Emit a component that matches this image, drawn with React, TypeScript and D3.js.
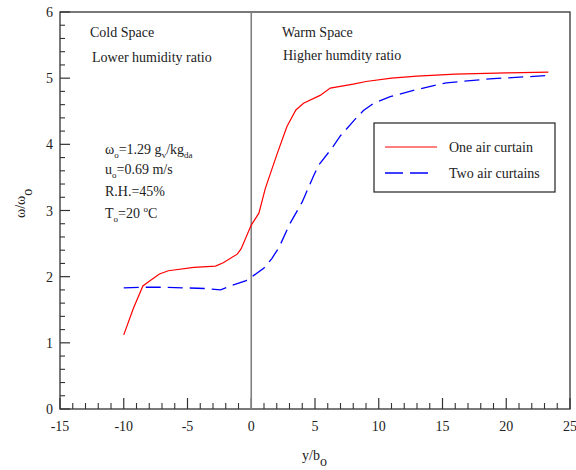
import React from "react";
import * as d3 from "d3";

const oneCurtainX = [-10, -9.25, -8.5, -8, -7.2, -6.5, -4.5, -2.8, -2.2, -1.1, -0.8, 0, 0.6, 1.1, 2, 2.8, 3.5, 4.1, 5.4, 6.2, 8, 9, 11, 13, 16, 20, 23.3];
const oneCurtainY = [1.12, 1.52, 1.86, 1.93, 2.04, 2.09, 2.14, 2.16, 2.21, 2.34, 2.42, 2.78, 2.96, 3.33, 3.84, 4.27, 4.52, 4.62, 4.74, 4.85, 4.91, 4.95, 5.0, 5.03, 5.06, 5.08, 5.09];

const twoCurtainsX = [-10, -8.5, -7, -5, -3.5, -2.4, -1.5, -0.4, 0.2, 1, 1.6, 2.2, 3, 4, 4.9, 5.3, 6.4, 7, 8.1, 8.8, 9.6, 10.9, 12.8, 15.3, 18.7, 23.3];
const twoCurtainsY = [1.83, 1.84, 1.84, 1.83, 1.82, 1.8, 1.87, 1.94, 2.02, 2.13, 2.27, 2.45, 2.79, 3.13, 3.53, 3.69, 3.96, 4.13, 4.37, 4.51, 4.62, 4.72, 4.82, 4.93, 4.99, 5.04];

const xMajorTicks = [-15, -10, -5, 0, 5, 10, 15, 20, 25];
const yMajorTicks = [0, 1, 2, 3, 4, 5, 6];
const legendLabels = ["One air curtain", "Two air curtains"];

const FONT = "'Liberation Serif', 'Times New Roman', serif";

export default function App() {
  const left = 60, right = 570, top = 12, bottom = 409;
  const x = d3.scaleLinear().domain([-15, 25]).range([left, right]);
  const y = d3.scaleLinear().domain([0, 6]).range([bottom, top]);

  const line = d3
    .line<[number, number]>()
    .x((d) => x(d[0]))
    .y((d) => y(d[1]));

  const oneData: [number, number][] = oneCurtainX.map((v, i) => [v, oneCurtainY[i]]);
  const twoData: [number, number][] = twoCurtainsX.map((v, i) => [v, twoCurtainsY[i]]);

  const xMinor = d3.range(-15, 25.001, 1).filter((v) => !xMajorTicks.includes(v));
  const yMinor = d3.range(0, 6.001, 0.2).map((v) => Math.round(v * 10) / 10).filter((v) => !yMajorTicks.includes(v));

  const axisColor = "#333";
  const fs = 14;

  return (
    <svg width={576} height={470} style={{ position: "absolute", left: 0, top: 0, background: "#fff" }} fontFamily={FONT}>
      {/* frame */}
      <rect x={left} y={top} width={right - left} height={bottom - top} fill="none" stroke={axisColor} strokeWidth={1.3} />
      {/* x ticks */}
      {xMajorTicks.map((t) => (
        <g key={"xm" + t}>
          <line x1={x(t)} x2={x(t)} y1={bottom} y2={bottom - 11} stroke={axisColor} strokeWidth={1.2} />
          <text x={x(t)} y={431} fontSize={fs} textAnchor="middle" fill="#222" fontFamily={FONT}>{t}</text>
        </g>
      ))}
      {xMinor.map((t) => (
        <line key={"xn" + t} x1={x(t)} x2={x(t)} y1={bottom} y2={bottom - 6} stroke={axisColor} strokeWidth={1.1} />
      ))}
      {/* y ticks */}
      {yMajorTicks.map((t) => (
        <g key={"ym" + t}>
          <line x1={left} x2={left + 10} y1={y(t)} y2={y(t)} stroke={axisColor} strokeWidth={1.2} />
          <text x={53} y={y(t) + 5} fontSize={fs} textAnchor="end" fill="#222" fontFamily={FONT}>{t}</text>
        </g>
      ))}
      {yMinor.map((t) => (
        <line key={"yn" + t} x1={left} x2={left + 5} y1={y(t)} y2={y(t)} stroke={axisColor} strokeWidth={1.1} />
      ))}
      {/* divider at 0 */}
      <line x1={x(0)} x2={x(0)} y1={bottom} y2={top} stroke="#808080" strokeWidth={1.6} />

      {/* curves */}
      <path d={line(oneData) || ""} fill="none" stroke="#ff0000" strokeWidth={1.2} />
      <path d={line(twoData) || ""} fill="none" stroke="#0000ff" strokeWidth={1.3} strokeDasharray="15 7" />

      {/* region texts */}
      <text x={90} y={37} fontSize={fs} fill="#222">Cold Space</text>
      <text x={92} y={62} fontSize={fs} fill="#222">Lower humidity ratio</text>
      <text x={282} y={37} fontSize={fs} fill="#222">Warm Space</text>
      <text x={283} y={60} fontSize={fs} fill="#222">Higher humdity ratio</text>

      {/* condition annotations */}
      <text x={105} y={154} fontSize={fs} fill="#222">
        ω<tspan fontSize={9} dy={4}>o</tspan>
        <tspan dy={-4}>=1.29 g</tspan>
        <tspan fontSize={9} dy={4}>v</tspan>
        <tspan dy={-4}>/kg</tspan>
        <tspan fontSize={9} dy={4}>da</tspan>
      </text>
      <text x={105} y={174} fontSize={fs} fill="#222">
        u<tspan fontSize={9} dy={4}>o</tspan>
        <tspan dy={-4}>=0.69 m/s</tspan>
      </text>
      <text x={105} y={196} fontSize={fs} fill="#222">R.H.=45%</text>
      <text x={105} y={218} fontSize={fs} fill="#222">
        T<tspan fontSize={9} dy={4}>o</tspan>
        <tspan dy={-4}>=20 </tspan>
        <tspan fontSize={9} dy={-6}>o</tspan>
        <tspan dy={6}>C</tspan>
      </text>

      {/* legend */}
      <rect x={374} y={123} width={181} height={69} fill="#fff" stroke="#222" strokeWidth={1.2} />
      <line x1={385} x2={437} y1={147} y2={147} stroke="#ff0000" strokeWidth={1.2} />
      <text x={449} y={152} fontSize={fs} fill="#222">{legendLabels[0]}</text>
      <line x1={385} x2={431} y1={173} y2={173} stroke="#0000ff" strokeWidth={1.3} strokeDasharray="18 7" />
      <text x={449} y={178} fontSize={fs} fill="#222">{legendLabels[1]}</text>

      {/* axis titles */}
      <text x={302} y={460} fontSize={fs} fill="#222">
        y/b<tspan dy={6}>o</tspan>
      </text>
      <text transform="translate(25,218) rotate(-90)" fontSize={fs} fill="#222">
        ω/ω<tspan dy={7}>o</tspan>
      </text>
    </svg>
  );
}
